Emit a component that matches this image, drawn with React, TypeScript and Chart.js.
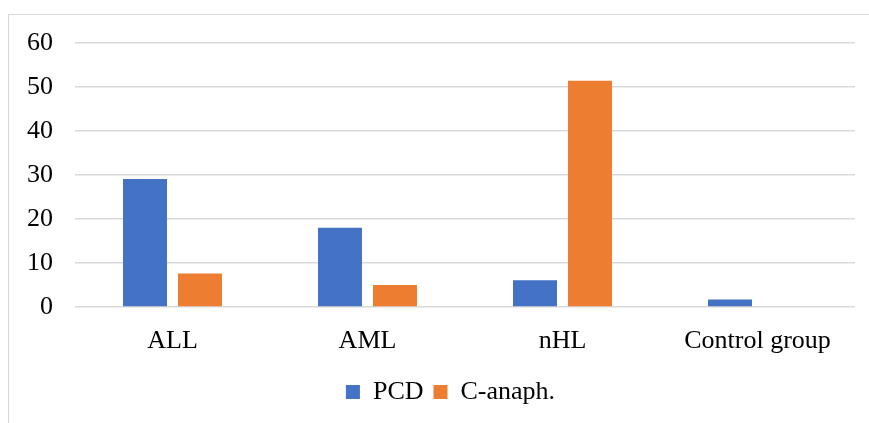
import React, { useEffect, useRef } from "react";
import { Chart, registerables } from "chart.js";

Chart.register(...registerables);

const categories = ["ALL", "AML", "nHL", "Control group"];
const pcdValues = [29.1, 18.0, 6.1, 1.7];
const canaphValues = [7.6, 5.0, 51.4, 0];
const seriesNames = ["PCD", "C-anaph."];
const yTicks = [0, 10, 20, 30, 40, 50, 60];

const FONT = "'Liberation Serif', 'Times New Roman', serif";

// shift the built-in legend so it is centred like the reference
const legendShift = {
  id: "legendShift",
  afterLayout(chart: any) {
    const lg = chart.legend;
    if (lg) {
      lg.left += 13;
      lg.right += 13;
    }
  },
};

export default function App() {
  const ref = useRef<HTMLCanvasElement | null>(null);

  useEffect(() => {
    if (!ref.current) return;
    const chart = new Chart(ref.current, {
      type: "bar",
      data: {
        labels: categories,
        datasets: [
          {
            label: seriesNames[0],
            data: pcdValues,
            backgroundColor: "#4472C4",
            barPercentage: 0.8,
            categoryPercentage: 0.564,
          },
          {
            label: seriesNames[1],
            data: canaphValues,
            backgroundColor: "#ED7D31",
            barPercentage: 0.8,
            categoryPercentage: 0.564,
          },
        ],
      },
      plugins: [legendShift],
      options: {
        animation: false,
        responsive: false,
        maintainAspectRatio: false,
        layout: { padding: { left: 20, right: 14, top: 43, bottom: 8 } },
        plugins: {
          tooltip: { enabled: false },
          legend: {
            position: "bottom",
            labels: {
              boxWidth: 14,
              boxHeight: 14,
              padding: 10,
              color: "#000",
              font: { family: FONT, size: 26 },
            },
          },
        },
        scales: {
          x: {
            grid: { display: false, drawTicks: false },
            border: { display: false },
            ticks: {
              color: "#000",
              padding: 19,
              font: { family: FONT, size: 26 },
              maxRotation: 0,
            },
            afterFit: (s: any) => {
              s.height = 62;
            },
          },
          y: {
            min: 0,
            max: 60,
            afterBuildTicks: (s: any) => {
              s.ticks = yTicks.map((v) => ({ value: v }));
            },
            grid: { color: "#d9d9d9", lineWidth: 1.5, drawTicks: false },
            border: { display: false },
            ticks: {
              color: "#000",
              padding: 22,
              font: { family: FONT, size: 26 },
            },
            afterFit: (s: any) => {
              s.width = 55;
            },
          },
        },
      },
    });
    return () => chart.destroy();
  }, []);

  return (
    <div
      style={{
        position: "fixed",
        left: 0,
        top: 0,
        width: 869,
        height: 423,
        overflow: "hidden",
        background: "#fff",
      }}
    >
      <div
        style={{
          position: "absolute",
          left: 8,
          top: 14,
          width: 870,
          height: 420,
          borderTop: "1.5px solid #d9d9d9",
          borderLeft: "1.5px solid #d9d9d9",
        }}
      />
      <canvas
        ref={ref}
        width={869}
        height={423}
        style={{ position: "absolute", left: 0, top: 0, width: 869, height: 423 }}
      />
    </div>
  );
}
